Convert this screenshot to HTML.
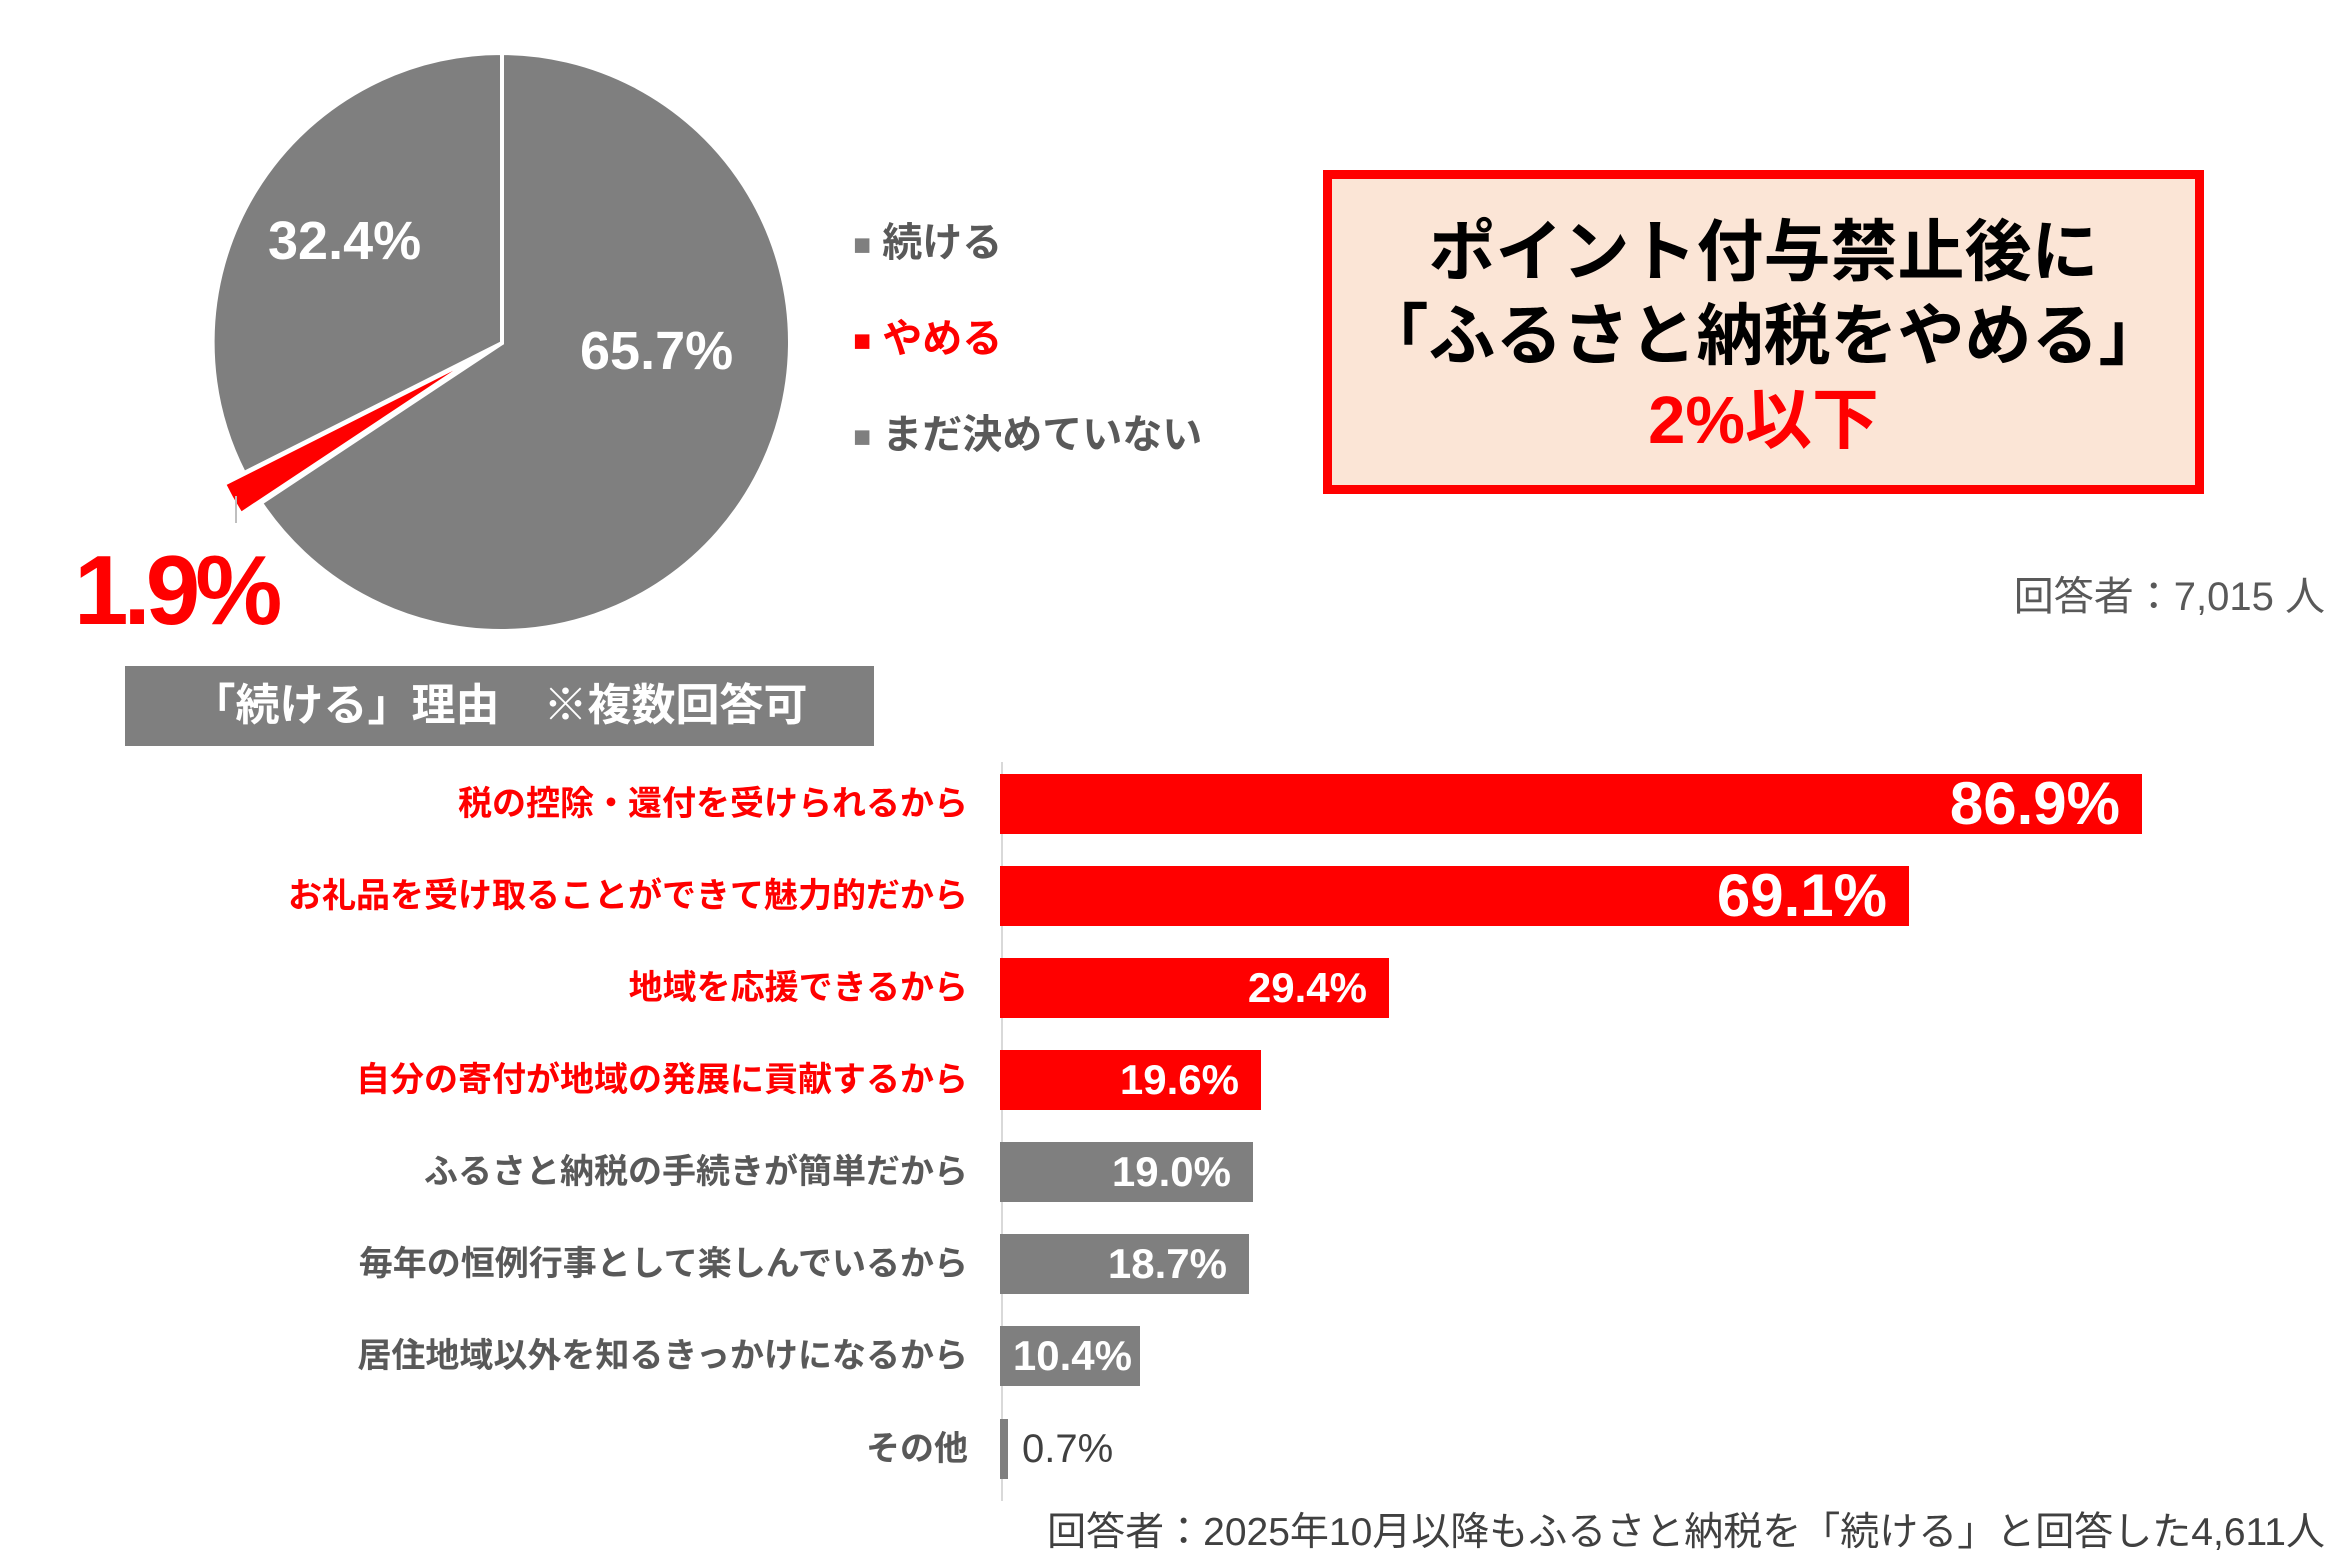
<!DOCTYPE html>
<html><head><meta charset="utf-8"><style>
body{margin:0;width:2346px;height:1568px;background:#fff;position:relative;overflow:hidden;font-family:"Liberation Sans","Noto Sans CJK JP",sans-serif}
.a{position:absolute;white-space:nowrap}
.lbl{position:absolute;right:1378px;font-weight:bold;font-size:34px;line-height:60px;text-align:right}
.bar{position:absolute;left:1000px;height:60px;color:#fff;font-weight:bold;text-align:right;box-sizing:border-box;padding-right:22px}
</style></head><body>
<svg class="a" style="left:0;top:0" width="2346" height="1568">
<path d="M502,343 L502,53 A289,289 0 1,1 261,503 Z" fill="#7f7f7f" stroke="#fff" stroke-width="4"/>
<path d="M502,343 L244,473 A289,289 0 0,1 502,53 Z" fill="#7f7f7f" stroke="#fff" stroke-width="4"/>
<g transform="translate(-20,11)"><path d="M502,343 L261,503 A289,289 0 0,1 244,473 Z" fill="#ff0000" stroke="#fff" stroke-width="4"/></g>
<line x1="236" y1="496" x2="236" y2="523" stroke="#bfbfbf" stroke-width="2"/>
<line x1="1002" y1="762" x2="1002" y2="1501" stroke="#d9d9d9" stroke-width="2"/>
</svg>
<div class="a" style="left:268px;top:210px;font-size:54px;font-weight:bold;color:#fff">32.4%</div>
<div class="a" style="left:580px;top:320px;font-size:54px;font-weight:bold;color:#fff">65.7%</div>
<div class="a" style="left:74px;top:534px;font-size:98px;font-weight:bold;color:#ff0000;letter-spacing:-5px">1.9%</div>
<div class="a" style="left:853px;top:210px;font-size:40px;font-weight:bold;color:#595959"><span style="color:#7f7f7f;font-size:30px;vertical-align:middle">■</span> 続ける</div>
<div class="a" style="left:853px;top:306px;font-size:40px;font-weight:bold;color:#ff0000"><span style="font-size:30px;vertical-align:middle">■</span> やめる</div>
<div class="a" style="left:853px;top:402px;font-size:40px;font-weight:bold;color:#595959"><span style="color:#7f7f7f;font-size:30px;vertical-align:middle">■</span> まだ決めていない</div>
<div class="a" style="left:1323px;top:170px;width:863px;height:274px;border:9px solid #ff0000;background:#fbe5d6;text-align:center;font-weight:bold;font-size:67px;line-height:84px;padding-top:32px">ポイント付与禁止後に<br>「ふるさと納税をやめる」<br><span style="color:#ff0000">2%以下</span></div>
<div class="a" style="right:21px;top:564px;font-size:40px;color:#595959">回答者：7,015 人</div>
<div class="a" style="left:125px;top:666px;width:749px;height:80px;background:#7f7f7f;color:#fff;font-weight:bold;font-size:44px;line-height:80px;text-align:center">「続ける」理由　※複数回答可</div>

<div class="lbl" style="top:774px;color:#ff0000">税の控除・還付を受けられるから</div>
<div class="lbl" style="top:866px;color:#ff0000">お礼品を受け取ることができて魅力的だから</div>
<div class="lbl" style="top:958px;color:#ff0000">地域を応援できるから</div>
<div class="lbl" style="top:1050px;color:#ff0000">自分の寄付が地域の発展に貢献するから</div>
<div class="lbl" style="top:1142px;color:#595959">ふるさと納税の手続きが簡単だから</div>
<div class="lbl" style="top:1234px;color:#595959">毎年の恒例行事として楽しんでいるから</div>
<div class="lbl" style="top:1326px;color:#595959">居住地域以外を知るきっかけになるから</div>
<div class="lbl" style="top:1419px;color:#595959">その他</div>

<div class="bar" style="top:774px;width:1142px;background:#ff0000;font-size:60px;line-height:60px">86.9%</div>
<div class="bar" style="top:866px;width:909px;background:#ff0000;font-size:60px;line-height:60px">69.1%</div>
<div class="bar" style="top:958px;width:389px;background:#ff0000;font-size:42px;line-height:60px">29.4%</div>
<div class="bar" style="top:1050px;width:261px;background:#ff0000;font-size:42px;line-height:60px">19.6%</div>
<div class="bar" style="top:1142px;width:253px;background:#7f7f7f;font-size:42px;line-height:60px">19.0%</div>
<div class="bar" style="top:1234px;width:249px;background:#7f7f7f;font-size:42px;line-height:60px">18.7%</div>
<div class="bar" style="top:1326px;width:140px;background:#7f7f7f;font-size:42px;line-height:60px;padding-right:8px">10.4%</div>
<div class="bar" style="top:1419px;width:8px;background:#7f7f7f;padding:0"></div>
<div class="a" style="left:1022px;top:1419px;font-size:40px;line-height:60px;color:#404040">0.7%</div>
<div class="a" style="right:21px;top:1501px;font-size:39px;color:#404040">回答者：2025年10月以降もふるさと納税を「続ける」と回答した4,611人</div>
</body></html>
